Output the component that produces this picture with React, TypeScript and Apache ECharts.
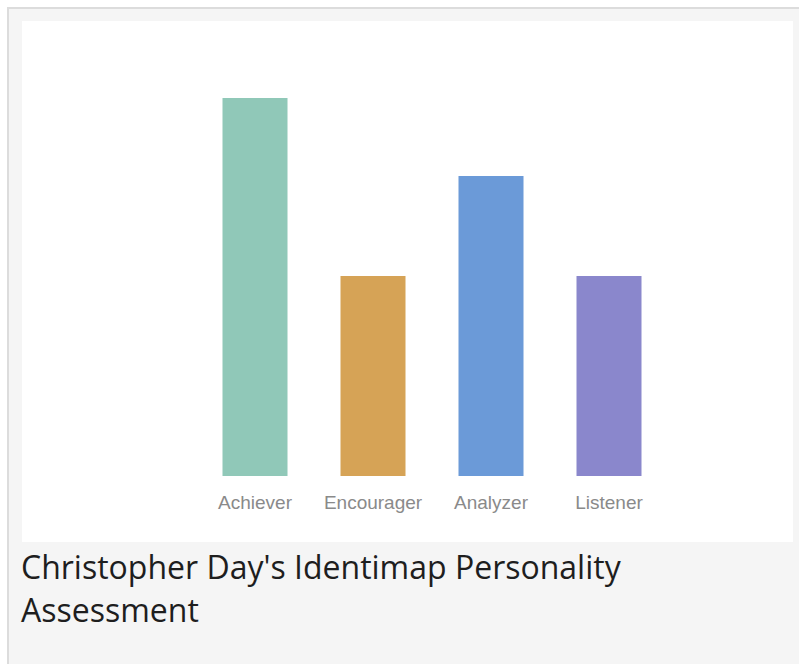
import React, { useEffect, useRef } from "react";
import * as echarts from "echarts";

const categories = ["Achiever", "Encourager", "Analyzer", "Listener"];
const scores = [18.9, 10, 15, 10];
const barColors = ["#90c8b8", "#d6a356", "#6b9ad8", "#8a87cc"];
const captionLines = ["Christopher Day's Identimap Personality", "Assessment"];

export default function App() {
  const ref = useRef<HTMLDivElement>(null);

  useEffect(() => {
    if (!ref.current) return;
    const chart = echarts.init(ref.current, undefined, { renderer: "svg" });
    chart.setOption({
      animation: false,
      backgroundColor: "#ffffff",
      grid: { left: 174, right: 125, top: 55, bottom: 66, containLabel: false },
      xAxis: {
        type: "category",
        data: categories,
        axisLine: { show: false },
        axisTick: { show: false },
        splitLine: { show: false },
        axisLabel: {
          margin: 17,
          color: "#8a8a8a",
          fontSize: 19,
          fontFamily: "Liberation Sans, Arial, sans-serif",
          interval: 0,
        },
      },
      yAxis: {
        type: "value",
        min: 0,
        max: 20,
        show: false,
        splitLine: { show: false },
      },
      series: [
        {
          type: "bar",
          barWidth: 65,
          data: scores.map((v, i) => ({ value: v, itemStyle: { color: barColors[i] } })),
        },
      ],
    });
    return () => chart.dispose();
  }, []);

  return (
    <div style={{ position: "fixed", left: 0, top: 0, width: 799, height: 664, overflow: "hidden", background: "#ffffff" }}>
      <div
        style={{
          position: "absolute",
          left: 7,
          top: 7,
          width: 900,
          height: 800,
          border: "2px solid #dcdcdc",
          background: "#f5f5f5",
        }}
      />
      <div
        ref={ref}
        style={{ position: "absolute", left: 22, top: 21, width: 771, height: 521, background: "#ffffff" }}
      />
      <div
        style={{
          position: "absolute",
          left: 21,
          top: 545,
          fontFamily: "'Open Sans', sans-serif",
          fontSize: 32,
          lineHeight: "normal",
          color: "#1e1e1e",
          whiteSpace: "nowrap",
        }}
      >
        {captionLines.map((l, i) => (
          <div key={i}>{l}</div>
        ))}
      </div>
    </div>
  );
}
